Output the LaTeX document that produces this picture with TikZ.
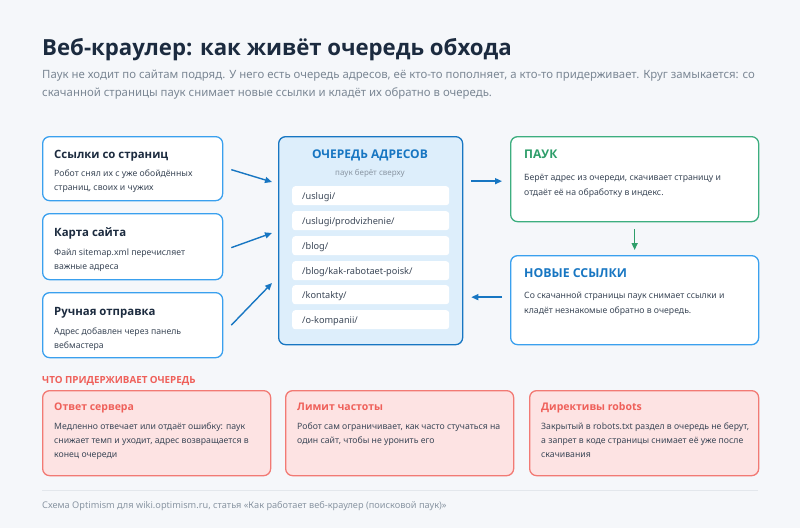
\documentclass[tikz,border=0pt]{standalone}
\usepackage{fontspec}
\setmainfont{Noto Sans}
\newfontfamily\headfont{Open Sans}
\usetikzlibrary{arrows.meta,calc}
\definecolor{bgc}{HTML}{F5F7FA}
\definecolor{navy}{HTML}{1C2B3F}
\definecolor{subg}{HTML}{7B8794}
\definecolor{bodyc}{HTML}{3C4858}
\definecolor{lightg}{HTML}{8A96A3}
\definecolor{blueL}{HTML}{3AA0EE}
\definecolor{blueD}{HTML}{1776C2}
\definecolor{qfill}{HTML}{DDEEFB}
\definecolor{greenB}{HTML}{3DAE7F}
\definecolor{greenT}{HTML}{2E9E6A}
\definecolor{redT}{HTML}{EF605A}
\definecolor{redF}{HTML}{FDE3E3}
\definecolor{redB}{HTML}{F27A74}
\definecolor{rule}{HTML}{E3E7EC}
\tikzset{
  txt/.style={inner sep=0pt, anchor=base west},
  body/.style={txt, text=bodyc, font=\fontsize{8.7}{11}\selectfont},
  btitle/.style={txt, text=navy, font=\headfont\bfseries\fontsize{11.4}{14}\selectfont},
  card/.style={draw=blueL, fill=white, line width=1.3pt, rounded corners=7pt, anchor=north west, inner sep=0pt},
  rcard/.style={draw=redB, fill=redF, line width=1.3pt, rounded corners=7pt, anchor=north west, inner sep=0pt, minimum width=228pt, minimum height=85pt},
  rtitle/.style={txt, text=redT, font=\headfont\bfseries\fontsize{10.5}{13}\selectfont},
  item/.style={fill=white, rounded corners=3pt, anchor=north west, inner sep=0pt, minimum width=157pt, minimum height=19pt},
  itxt/.style={txt, text=bodyc, font=\fontsize{9.2}{11}\selectfont},
  arr/.style={draw=blueD, line width=1.4pt, -{Triangle[length=7pt,width=6pt]}},
  garr/.style={draw=greenT, line width=1.4pt, -{Triangle[length=7pt,width=6pt]}},
}
\begin{document}
\begin{tikzpicture}[x=1pt,y=-1pt]
\useasboundingbox (0,0) rectangle (800,528);
\fill[bgc] (0,0) rectangle (800,528);
% title
\node[txt, text=navy, font=\headfont\bfseries\fontsize{22.2}{26}\selectfont] (title) at (42,55) {Веб-краулер: как живёт очередь обхода};
\node[txt, text=subg, font=\fontsize{11.4}{13}\selectfont] (sub1) at (42,78) {Паук не ходит по сайтам подряд. У него есть очередь адресов, её кто-то пополняет, а кто-то придерживает. Круг замыкается: со};
\node[txt, text=subg, font=\fontsize{11.4}{13}\selectfont] (sub2) at (42,96) {скачанной страницы паук снимает новые ссылки и кладёт их обратно в очередь.};
% left cards
\node[card, minimum width=180pt, minimum height=64pt] (s1) at (42,136) {};
\node[btitle] (s1t) at (54,158) {Ссылки со страниц};
\node[body] (s1a) at (54,176) {Робот снял их с уже обойдённых};
\node[body] (s1b) at (54,190) {страниц, своих и чужих};
\node[card, minimum width=180pt, minimum height=66pt] (s2) at (42,213) {};
\node[btitle] (s2t) at (54,236) {Карта сайта};
\node[body] (s2a) at (54,255) {Файл sitemap.xml перечисляет};
\node[body] (s2b) at (54,269) {важные адреса};
\node[card, minimum width=180pt, minimum height=65pt] (s3) at (42,292) {};
\node[btitle] (s3t) at (54,315) {Ручная отправка};
\node[body] (s3a) at (54,334) {Адрес добавлен через панель};
\node[body] (s3b) at (54,348) {вебмастера};
% queue
\node[draw=blueD, fill=qfill, line width=1.3pt, rounded corners=7pt, anchor=north west, inner sep=0pt, minimum width=184pt, minimum height=208pt] (q) at (278,136) {};
\node[inner sep=0pt, anchor=base, text=blueD, font=\headfont\bfseries\fontsize{12}{13}\selectfont] (qt) at (370,158) {ОЧЕРЕДЬ АДРЕСОВ};
\node[inner sep=0pt, anchor=base, text=lightg, font=\fontsize{8}{10}\selectfont] (qs) at (370,175) {паук берёт сверху};
\node[item] (i1) at (292,186) {};
\node[itxt] (i1t) at (302,199) {/uslugi/};
\node[item] (i2) at (292,211) {};
\node[itxt] (i2t) at (302,224) {/uslugi/prodvizhenie/};
\node[item] (i3) at (292,236) {};
\node[itxt] (i3t) at (302,249) {/blog/};
\node[item] (i4) at (292,261) {};
\node[itxt] (i4t) at (302,274) {/blog/kak-rabotaet-poisk/};
\node[item] (i5) at (292,285) {};
\node[itxt] (i5t) at (302,298) {/kontakty/};
\node[item] (i6) at (292,310) {};
\node[itxt] (i6t) at (302,323) {/o-kompanii/};
% arrows into queue
\coordinate (e1) at (272,182);
\coordinate (e2) at (272,233);
\coordinate (e3) at (272,283);
\draw[arr] ($(s1.east)+(8,1)$) -- (e1);
\draw[arr] ($(s2.east)+(8,1)$) -- (e2);
\draw[arr] ($(s3.east)+(8,0)$) -- (e3);
% spider
\node[card, draw=greenB, minimum width=248pt, minimum height=85pt] (p) at (510,136) {};
\node[txt, text=greenT, font=\headfont\bfseries\fontsize{12}{14}\selectfont] (pt) at (524,158) {ПАУК};
\node[body] (pa) at (524,180) {Берёт адрес из очереди, скачивает страницу и};
\node[body] (pb) at (524,195) {отдаёт её на обработку в индекс.};
\node[card, minimum width=248pt, minimum height=89pt] (n) at (510,255) {};
\node[txt, text=blueD, font=\headfont\bfseries\fontsize{12.3}{14}\selectfont] (nt) at (524,277) {НОВЫЕ ССЫЛКИ};
\node[body] (na) at (524,298) {Со скачанной страницы паук снимает ссылки и};
\node[body] (nb) at (524,313) {кладёт незнакомые обратно в очередь.};
\draw[arr] ($(q.east |- p.center)+(8,2)$) -- ($(p.west)+(-8,2)$);
\draw[garr] ($(p.south)+(0,7)$) -- ($(n.north)+(0,-5)$);
\draw[arr] ($(n.west)+(-8,-3)$) -- ($(q.east |- n.west)+(8,-3)$);
% holders
\node[txt, text=redT, font=\headfont\bfseries\fontsize{9.8}{11}\selectfont] (ht) at (42,383) {ЧТО ПРИДЕРЖИВАЕТ ОЧЕРЕДЬ};
\node[rcard] (r1) at (42,390) {};
\node[rtitle] (r1t) at (54,410) {Ответ сервера};
\node[body] (r1a) at (54,429) {Медленно отвечает или отдаёт ошибку: паук};
\node[body] (r1b) at (54,443) {снижает темп и уходит, адрес возвращается в};
\node[body] (r1c) at (54,457) {конец очереди};
\node[rcard] (r2) at (285,390) {};
\node[rtitle] (r2t) at (297,410) {Лимит частоты};
\node[body] (r2a) at (297,429) {Робот сам ограничивает, как часто стучаться на};
\node[body] (r2b) at (297,443) {один сайт, чтобы не уронить его};
\node[rcard, minimum width=229pt] (r3) at (529,390) {};
\node[rtitle] (r3t) at (541,410) {Директивы robots};
\node[body] (r3a) at (541,429) {Закрытый в robots.txt раздел в очередь не берут,};
\node[body] (r3b) at (541,443) {а запрет в коде страницы снимает её уже после};
\node[body] (r3c) at (541,457) {скачивания};
% footer
\draw[rule, line width=0.8pt] (42,490) -- (758,490);
\node[txt, text=lightg, font=\fontsize{9.2}{11}\selectfont] (ft) at (42,508) {Схема Optimism для wiki.optimism.ru, статья «Как работает веб-краулер (поисковой паук)»};
\end{tikzpicture}
\end{document}
